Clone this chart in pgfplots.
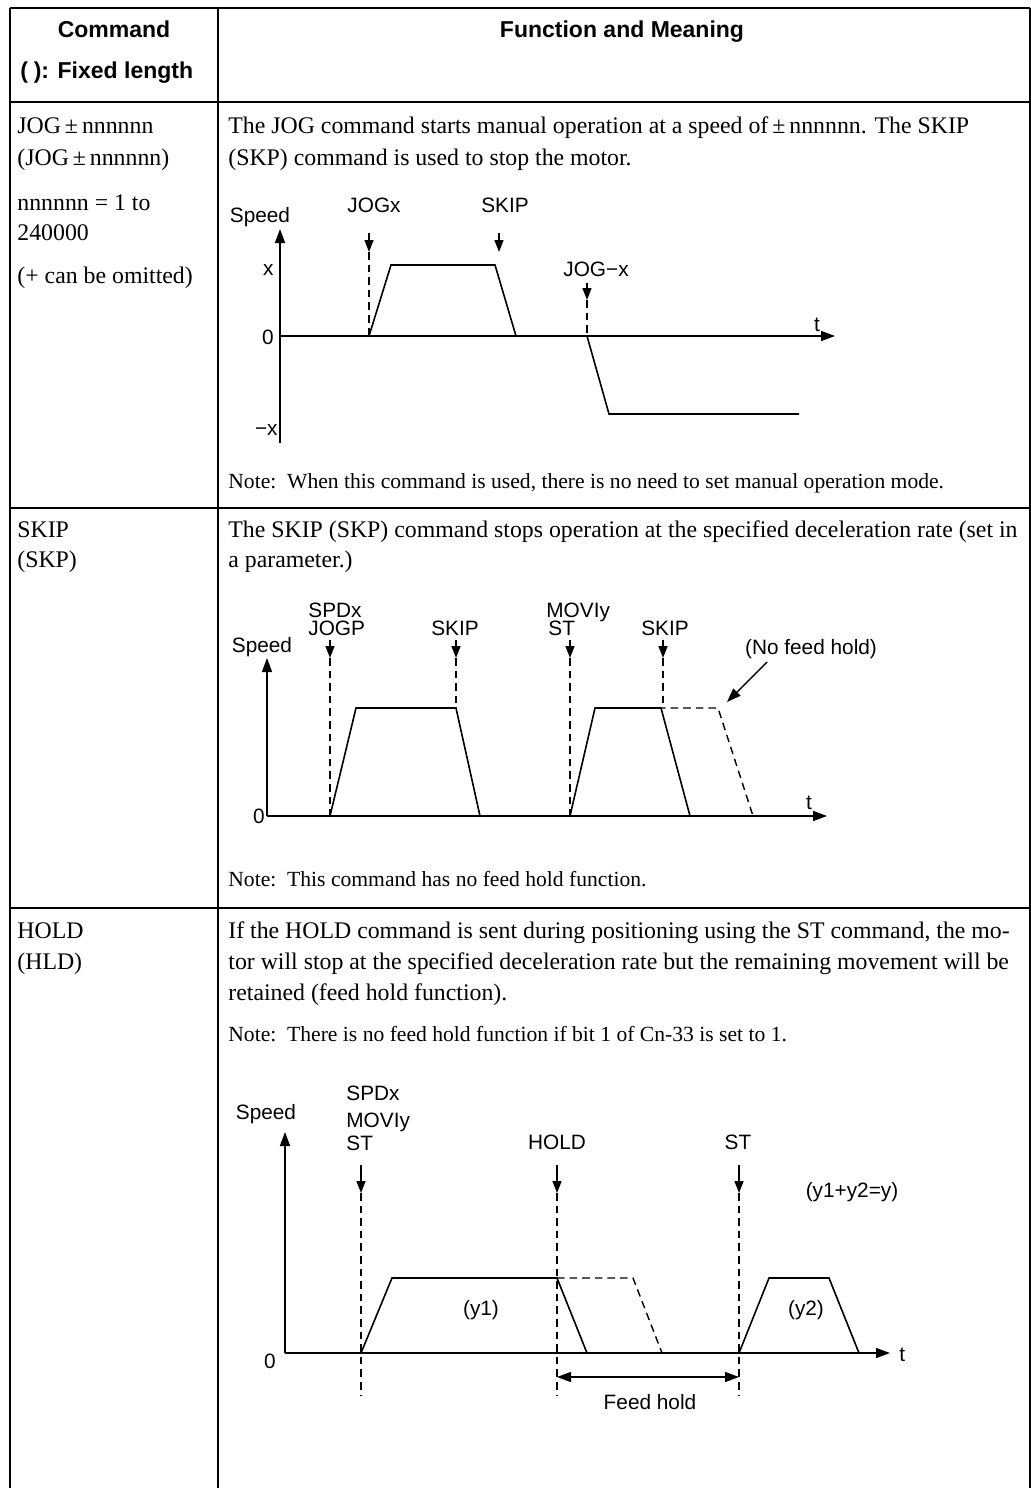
\documentclass[border=0pt]{standalone}
\usepackage{pgfplots}
\pgfplotsset{compat=1.18}
\usepackage{fontspec}
\setmainfont{Liberation Serif}
\setsansfont{Liberation Sans}
\usetikzlibrary{arrows.meta}

\newcommand\bodyfont{\fontsize{11.9}{14}\selectfont}
\newcommand\notefont{\fontsize{10.8}{12}\selectfont}
\newcommand\lblfont{\sffamily\fontsize{10.4}{12}\selectfont}
\newcommand\hdrfont{\sffamily\bfseries\fontsize{11.5}{14}\selectfont}

\tikzset{
  lbl/.style={font=\lblfont, inner sep=0pt, anchor=base},
  prof/.style={black, line width=0.8pt},
  dsh/.style={black, line width=0.7pt, dash pattern=on 3.8pt off 2.5pt},
  cmd/.style={black, line width=0.8pt, -{Triangle[width=4.5pt,length=6pt]}},
  ax/.style={black, line width=0.8pt, -{Triangle[width=5pt,length=7pt]}},
}
\pgfplotsset{
  diag/.style={x=0.5pt, y=0.5pt, anchor=origin, axis lines=none, clip=false},
}

\begin{document}
\begin{tikzpicture}[x=0.5pt, y=-0.5pt]
\path[use as bounding box] (0,0) rectangle (1031,1488);

% table rules
\begin{scope}[line width=0.85pt]
\draw (10,8) -- (1030,8);
\draw (10,102) -- (1030,102);
\draw (10,508) -- (1030,508);
\draw (10,908) -- (1030,908);
\draw (10,8) -- (10,1488);
\draw (218,8) -- (218,1488);
\draw (1030,8) -- (1030,1488);
\end{scope}

% header
\node[font=\hdrfont, anchor=base, inner sep=0] at (114,37) {Command};
\node[font=\hdrfont, anchor=base west, inner sep=0] at (20,78) {(\hspace{0.25em}): Fixed length};
\node[font=\hdrfont, anchor=base, inner sep=0] at (622,37) {Function and Meaning};

% column 1
\begin{scope}[every node/.style={font=\bodyfont, anchor=base west, inner sep=0}]
\node at (17,133) {JOG\,±\,nnnnnn};
\node at (17,165) {(JOG\,±\,nnnnnn)};
\node at (17,210) {nnnnnn = 1 to};
\node at (17,240) {240000};
\node at (17,283) {(+ can be omitted)};
\node at (17,537) {SKIP};
\node at (17,567) {(SKP)};
\node at (17,938) {HOLD};
\node at (17,969) {(HLD)};
% column 2
\node at (228,133) {The JOG command starts manual operation at a speed of\,±\,nnnnnn. The SKIP};
\node at (228,165) {(SKP) command is used to stop the motor.};
\node at (228,537) {The SKIP (SKP) command stops operation at the specified deceleration rate (set in};
\node at (228,567) {a parameter.)};
\node at (228,938) {If the HOLD command is sent during positioning using the ST command, the mo-};
\node at (228,969) {tor will stop at the specified deceleration rate but the remaining movement will be};
\node at (228,1000) {retained (feed hold function).};
\end{scope}
\begin{scope}[every node/.style={font=\notefont, anchor=base west, inner sep=0}]
\node at (228,488) {Note:\ \ When this command is used, there is no need to set manual operation mode.};
\node at (228,886) {Note:\ \ This command has no feed hold function.};
\node at (228,1041) {Note:\ \ There is no feed hold function if bit 1 of Cn-33 is set to 1.};
\end{scope}

% ---- diagram 1: JOG ----
\begin{axis}[diag, at={(140pt,-168pt)}, xmin=-40, xmax=570, ymin=-110, ymax=140]
\addplot[ax] coordinates {(0,-107) (0,107)};
\addplot[ax] coordinates {(0,0) (555,0)};
\addplot[prof] coordinates {(89,0) (111,71) (215,71) (236,0)};
\addplot[prof] coordinates {(307,0) (329,-78) (519,-78)};
\addplot[dsh] coordinates {(89,84) (89,0)};
\addplot[dsh] coordinates {(307,36) (307,0)};
\addplot[cmd] coordinates {(89,103) (89,84)};
\addplot[cmd] coordinates {(219,103) (219,84)};
\addplot[cmd] coordinates {(307,53) (307,36)};
\node[lbl] at (axis cs:-20,114) {Speed};
\node[lbl] at (axis cs:94,124) {JOGx};
\node[lbl] at (axis cs:225,124) {SKIP};
\node[lbl] at (axis cs:316,60) {JOG−x};
\node[lbl, anchor=base east] at (axis cs:-6,61) {x};
\node[lbl, anchor=base east] at (axis cs:-6,-8) {0};
\node[lbl, anchor=base east] at (axis cs:-2,-99) {−x};
\node[lbl] at (axis cs:537,5) {t};
\end{axis}

% ---- diagram 2: SKIP ----
\begin{axis}[diag, at={(133.5pt,-408pt)}, xmin=-30, xmax=600, ymin=-20, ymax=220]
\addplot[ax] coordinates {(0,0) (0,158)};
\addplot[ax] coordinates {(0,0) (560,0)};
\addplot[prof] coordinates {(63,0) (89,108) (189,108) (213,0)};
\addplot[prof] coordinates {(303,0) (328,108) (394,108) (423,0)};
\addplot[dsh] coordinates {(328,108) (394,108) (451,108) (486,0)};
\addplot[dsh] coordinates {(63,158) (63,0)};
\addplot[dsh] coordinates {(189,158) (189,108)};
\addplot[dsh] coordinates {(303,158) (303,0)};
\addplot[dsh] coordinates {(396,158) (396,108)};
\addplot[cmd] coordinates {(63,176) (63,158)};
\addplot[cmd] coordinates {(189,176) (189,158)};
\addplot[cmd] coordinates {(303,176) (303,158)};
\addplot[cmd] coordinates {(396,176) (396,158)};
\addplot[black, line width=0.7pt, -{Triangle[width=5pt,length=7pt]}] coordinates {(500,154) (460,114)};
\node[lbl, anchor=base west] at (axis cs:41,199) {SPDx};
\node[lbl, anchor=base west] at (axis cs:41,181) {JOGP};
\node[lbl] at (axis cs:188,181) {SKIP};
\node[lbl, anchor=base west] at (axis cs:279,199) {MOVIy};
\node[lbl, anchor=base west] at (axis cs:281,181) {ST};
\node[lbl] at (axis cs:398,181) {SKIP};
\node[lbl] at (axis cs:544,162) {(No feed hold)};
\node[lbl] at (axis cs:-5,164) {Speed};
\node[lbl, anchor=base east] at (axis cs:-2,-7) {0};
\node[lbl] at (axis cs:542,7) {t};
\end{axis}

% ---- diagram 3: HOLD ----
\begin{axis}[diag, at={(142.5pt,-676.5pt)}, xmin=-40, xmax=640, ymin=-70, ymax=270]
\addplot[ax] coordinates {(0,0) (0,221)};
\addplot[ax] coordinates {(0,0) (605,0)};
\addplot[prof] coordinates {(76,0) (107,75) (272,75) (302,0)};
\addplot[dsh] coordinates {(272,75) (348,75) (377,0)};
\addplot[prof] coordinates {(454,0) (484,75) (544,75) (574,0)};
\addplot[dsh] coordinates {(76,160) (76,-42)};
\addplot[dsh] coordinates {(272,160) (272,-42)};
\addplot[dsh] coordinates {(454,160) (454,-42)};
\addplot[cmd] coordinates {(76,188) (76,160)};
\addplot[cmd] coordinates {(272,188) (272,160)};
\addplot[cmd] coordinates {(454,188) (454,160)};
\addplot[black, line width=0.8pt, {Triangle[width=5pt,length=7pt]}-{Triangle[width=5pt,length=7pt]}] coordinates {(272,-24) (454,-24)};
\node[lbl] at (axis cs:-19,234) {Speed};
\node[lbl, anchor=base west] at (axis cs:61,253) {SPDx};
\node[lbl, anchor=base west] at (axis cs:61,226) {MOVIy};
\node[lbl, anchor=base west] at (axis cs:61,203) {ST};
\node[lbl] at (axis cs:272,204) {HOLD};
\node[lbl] at (axis cs:453,204) {ST};
\node[lbl] at (axis cs:567,156) {(y1+y2=y)};
\node[lbl] at (axis cs:196,38) {(y1)};
\node[lbl] at (axis cs:521,38) {(y2)};
\node[lbl] at (axis cs:-15,-15) {0};
\node[lbl, anchor=base west] at (axis cs:614,-8) {t};
\node[lbl] at (axis cs:365,-56) {Feed hold};
\end{axis}
\end{tikzpicture}
\end{document}
